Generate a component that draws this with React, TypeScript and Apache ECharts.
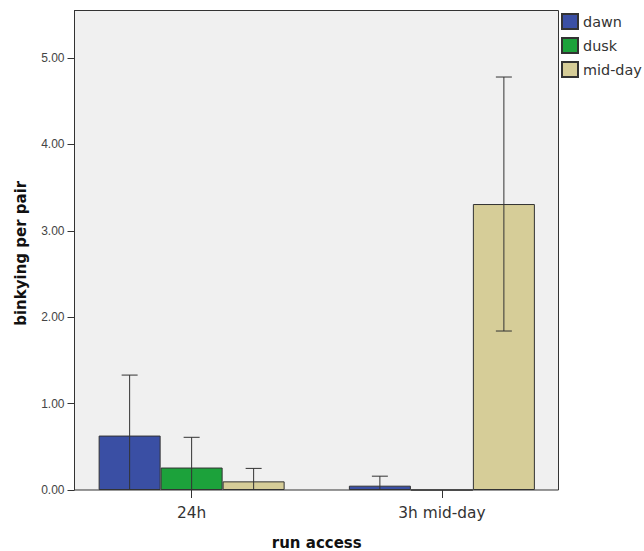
import React, { useEffect, useRef } from "react";
import * as echarts from "echarts";

const categories = ["24h", "3h mid-day"];
const seriesNames = ["dawn", "dusk", "mid-day"];
const dawnValues = [0.63, 0.05];
const duskValues = [0.26, 0.0];
const middayValues = [0.10, 3.31];
const dawnUpper = [1.33, 0.16];
const dawnLower = [-0.07, -0.06];
const duskUpper = [0.61, 0.0];
const duskLower = [-0.09, 0.0];
const middayUpper = [0.25, 4.78];
const middayLower = [-0.05, 1.84];
const yTicks = [0, 1, 2, 3, 4, 5];
const colors = ["#3a4fa4", "#1ca23b", "#d6cd98"];

const FONT = "Liberation Sans, Arial, sans-serif";
const WIDE = "DejaVu Sans, Verdana, sans-serif";
const BAR_W = 62;
const CAP = 16;
const Y_MAX = 5.55;

export default function App() {
  const ref = useRef<HTMLDivElement>(null);
  useEffect(() => {
    if (!ref.current) return;
    const chart = echarts.init(ref.current, undefined, { renderer: "svg" });
    const values = [dawnValues, duskValues, middayValues];
    const uppers = [dawnUpper, duskUpper, middayUpper];
    const lowers = [dawnLower, duskLower, middayLower];
    const errData: number[][] = [];
    for (let s = 0; s < 3; s++) {
      for (let c = 0; c < categories.length; c++) {
        errData.push([c, lowers[s][c], uppers[s][c], s]);
      }
    }
    const option: any = {
      animation: false,
      grid: [
        {
          left: 74.5,
          right: 85.5,
          top: 10.5,
          bottom: 61,
          show: true,
          backgroundColor: "#f0f0f0",
          borderColor: "#333",
          borderWidth: 1,
          containLabel: false,
          outerBoundsMode: "none",
        },
        {
          left: 66.5,
          right: 77,
          top: 10.5,
          bottom: 61,
          containLabel: false,
          outerBoundsMode: "none",
        },
      ],
      legend: {
        orient: "vertical",
        left: 561,
        top: 13,
        padding: 0,
        itemWidth: 16,
        itemHeight: 15,
        itemGap: 7,
        icon: "rect",
        data: seriesNames,
        textStyle: { fontFamily: WIDE, fontSize: 14.4, color: "#333" },
      },
      xAxis: [
        {
          gridIndex: 0,
          type: "value",
          show: false,
          min: 0,
          max: 1,
        },
        {
          gridIndex: 1,
          type: "category",
          data: categories,
          axisLine: { show: false },
          axisTick: {
            show: true,
            alignWithLabel: true,
            length: 8,
            lineStyle: { color: "#333" },
          },
          axisLabel: {
            margin: 15,
            fontFamily: WIDE,
            fontSize: 15.4,
            color: "#333",
          },
          name: "run access",
          nameLocation: "middle",
          nameGap: 45,
          nameTextStyle: {
            fontFamily: WIDE,
            fontSize: 15,
            fontWeight: "bold",
            color: "#111",
          },
        },
      ],
      yAxis: [
        {
          gridIndex: 0,
          type: "value",
          min: 0,
          max: Y_MAX,
          axisLine: { show: true, lineStyle: { color: "#333" } },
          axisTick: {
            show: true,
            length: 7,
            customValues: yTicks,
            lineStyle: { color: "#333" },
          },
          splitLine: { show: false },
          axisLabel: {
            customValues: yTicks,
            margin: 10,
            fontFamily: FONT,
            fontSize: 12,
            color: "#444",
            formatter: (v: number) => v.toFixed(2),
          },
          name: "binkying per pair",
          nameLocation: "middle",
          nameGap: 46,
          nameTextStyle: {
            fontFamily: WIDE,
            fontSize: 15,
            fontWeight: "bold",
            color: "#111",
            padding: [0, 6, 0, 0],
          },
        },
        {
          gridIndex: 1,
          type: "value",
          min: 0,
          max: Y_MAX,
          show: false,
        },
      ],
      series: [
        ...seriesNames.map((name, i) => ({
          name,
          type: "bar",
          xAxisIndex: 1,
          yAxisIndex: 1,
          z: 2,
          barWidth: BAR_W,
          barGap: "0%",
          data: values[i],
          itemStyle: { color: colors[i], borderColor: "#333", borderWidth: 1 },
        })),
        {
          type: "custom",
          xAxisIndex: 1,
          yAxisIndex: 1,
          z: 10,
          clip: false,
          silent: true,
          data: errData,
          renderItem: (params: any, api: any) => {
            const c = api.value(0);
            const lo = api.value(1);
            const hi = api.value(2);
            const s = api.value(3);
            if (hi === lo) return { type: "group", children: [] };
            const center = api.coord([c, 0]);
            const x = center[0] + (s - 1) * BAR_W;
            const yTop = api.coord([c, hi])[1];
            const yBot = api.coord([c, Math.max(lo, 0)])[1];
            const style = { stroke: "#333", lineWidth: 1, fill: null };
            const children: any[] = [
              { type: "line", z2: 10, shape: { x1: x, y1: yTop, x2: x, y2: yBot }, style },
              { type: "line", z2: 10, shape: { x1: x - CAP / 2, y1: yTop, x2: x + CAP / 2, y2: yTop }, style },
            ];
            if (lo > 0) {
              children.push({
                type: "line",
                z2: 10,
                shape: { x1: x - CAP / 2, y1: yBot, x2: x + CAP / 2, y2: yBot },
                style,
              });
            }
            return { type: "group", children };
          },
        },
      ],
    };
    chart.setOption(option);
    return () => chart.dispose();
  }, []);
  return (
    <div
      ref={ref}
      style={{ position: "fixed", left: 0, top: 0, width: 644, height: 551, background: "#fff" }}
    />
  );
}
